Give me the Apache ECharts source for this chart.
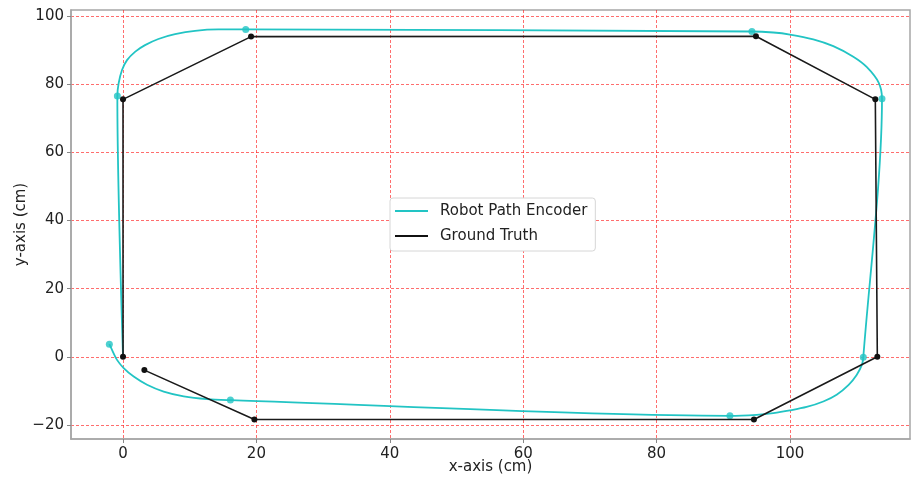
<!DOCTYPE html>
<html>
<head>
<meta charset="utf-8">
<script src="https://cdn.jsdelivr.net/npm/echarts@6/dist/echarts.min.js"></script>
<style>
  html, body { margin: 0; padding: 0; background: #fff; }
  #chart { width: 912px; height: 482px; }
</style>
</head>
<body>
<div id="chart"></div>
<script>
// ground truth waypoints (cm)
const truthX = [0, 0, 19.2, 94.9, 112.8, 113.1, 94.6, 19.7, 3.2];
const truthY = [0, 75.5, 93.9, 94.0, 75.5, 0, -18.4, -18.4, -3.9];

// encoder path
const encoderX = [0, -0.85, -0.66, -0.15, 0.6, 1.84, 3.3, 5.3, 7.8, 10.8, 14.3, 18.4,
  94.3, 97.5, 100.0, 103.5, 106.5, 109.5, 111.5, 113.3, 113.8,
  111.0, 110.8, 110.0, 108.8, 107.0, 105.0, 102.5, 100.0, 97.5, 95.0, 91.0,
  16.1, 12.6, 9.1, 6.1, 3.6, 1.6, 0.1, -0.9, -1.65, -2.05];
const encoderY = [0, 76.5, 80.2, 84.1, 87.0, 89.5, 91.4, 93.2, 94.6, 95.6, 96.0, 96.0,
  95.4, 95.1, 94.5, 93.1, 91.1, 88.0, 85.0, 80.4, 75.7,
  -0.1, -2.3, -5.3, -8.2, -11.1, -13.1, -14.7, -15.7, -16.5, -17.0, -17.3,
  -12.7, -12.4, -11.6, -10.2, -8.2, -5.8, -3.3, -0.9, 2.05, 3.7];

// encoder waypoints (marked dots)
const markX = [-0.85, 18.4, 94.3, 113.8, 111.0, 91.0, 16.1, -2.05];
const markY = [76.5, 96.0, 95.4, 75.7, -0.1, -17.3, -12.7, 3.7];

const xTicks = [0, 20, 40, 60, 80, 100];
const yTicks = [-20, 0, 20, 40, 60, 80, 100];

const zip = (xs, ys) => xs.map((x, i) => [x, ys[i]]);
const fmt = v => (v < 0 ? '\u2212' + Math.abs(v) : String(v));

const cyan = '#22c4c4';
const ink = '#222';
const font = 'DejaVu Sans';
const gridLine = {
  show: true, showMinLine: false, showMaxLine: false,
  lineStyle: { color: 'rgba(255,30,30,0.65)', width: 1, type: [3, 2] }
};

const chart = echarts.init(document.getElementById('chart'), null, { renderer: 'canvas' });

chart.setOption({
  animation: false,
  backgroundColor: '#fff',
  textStyle: { fontFamily: font },
  grid: {
    left: 71, right: 2, top: 10, bottom: 43,
    outerBoundsMode: 'none',
    containLabel: false,
    show: true, borderColor: '#a6a6a6', borderWidth: 1.5
  },
  legend: {
    left: 390, top: 198,
    orient: 'vertical',
    backgroundColor: '#fff',
    borderColor: '#d6d6d6', borderWidth: 1, borderRadius: 3,
    padding: [4, 8, 6, 5],
    itemWidth: 33, itemHeight: 2, itemGap: 7,
    textStyle: { fontFamily: font, fontSize: 15, color: ink, lineHeight: 18, padding: [0, 0, 0, 7] },
    data: [
      { name: 'Robot Path Encoder', icon: 'rect' },
      { name: 'Ground Truth', icon: 'rect' }
    ]
  },
  xAxis: {
    type: 'value',
    min: -7.8, max: 118, splitNumber: 6,
    name: 'x-axis (cm)', nameLocation: 'middle', nameGap: 21, nameMoveOverlap: false,
    nameTextStyle: { fontFamily: font, fontSize: 15, color: ink },
    axisLine: { show: true, onZero: false, lineStyle: { color: '#a6a6a6', width: 1.5 } },
    axisTick: { show: true, length: 4, lineStyle: { color: '#888' } },
    axisLabel: {
      fontFamily: font, fontSize: 15, color: ink, margin: 8,
      showMinLabel: false, showMaxLabel: false,
      formatter: v => (xTicks.includes(v) ? fmt(v) : '')
    },
    splitLine: gridLine
  },
  yAxis: {
    type: 'value',
    min: -24.1, max: 101.7, splitNumber: 6,
    name: 'y-axis (cm)', nameLocation: 'middle', nameGap: 42, nameRotate: 90, nameMoveOverlap: false,
    nameTextStyle: { fontFamily: font, fontSize: 15, color: ink },
    axisLine: { show: true, onZero: false, lineStyle: { color: '#a6a6a6', width: 1.5 } },
    axisTick: { show: true, length: 4, lineStyle: { color: '#888' } },
    axisLabel: {
      fontFamily: font, fontSize: 15, color: ink, margin: 7,
      showMinLabel: false, showMaxLabel: false,
      formatter: v => (yTicks.includes(v) ? fmt(v) : '')
    },
    splitLine: gridLine
  },
  series: [
    {
      name: 'Robot Path Encoder',
      type: 'line',
      data: zip(encoderX, encoderY),
      smooth: 0.3,
      symbol: 'none',
      color: cyan,
      lineStyle: { color: cyan, width: 1.8 }
    },
    {
      name: 'Encoder waypoints',
      type: 'scatter',
      data: zip(markX, markY),
      symbol: 'circle',
      symbolSize: 7,
      itemStyle: { color: cyan }
    },
    {
      name: 'Ground Truth',
      type: 'line',
      data: zip(truthX, truthY),
      symbol: 'circle',
      symbolSize: 6,
      showAllSymbol: true,
      color: '#111',
      itemStyle: { color: '#111' },
      lineStyle: { color: '#1a1a1a', width: 1.6 }
    }
  ]
});
</script>
</body>
</html>
